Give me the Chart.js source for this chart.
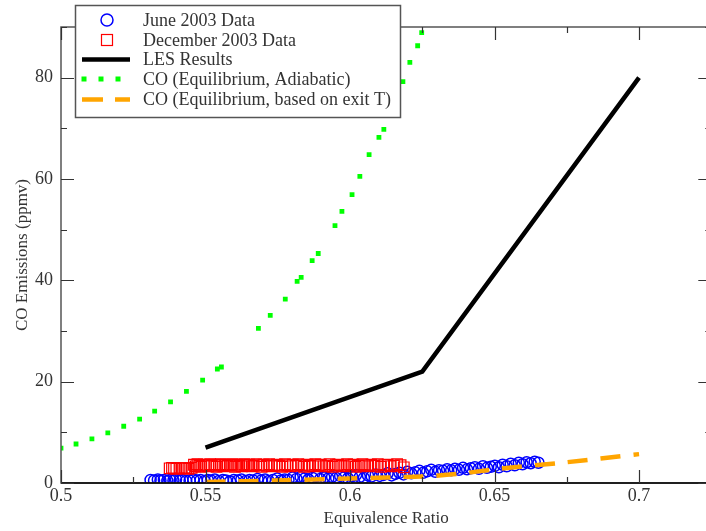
<!DOCTYPE html>
<html>
<head>
<meta charset="utf-8">
<script src="https://cdn.jsdelivr.net/npm/chart.js@4.4.0/dist/chart.umd.min.js"></script>
<style>
  html, body { margin: 0; padding: 0; background: #fff; overflow: hidden; }
  #wrap { width: 706px; height: 531px; overflow: hidden; position: relative; }
  #box { width: 720px; height: 531px; }
</style>
</head>
<body>
<div id="wrap"><div id="box"><canvas id="coChart"></canvas></div></div>
<script>
// ticks
const xTicks = [0.5, 0.55, 0.6, 0.65, 0.7];
const yTicks = [0, 20, 40, 60, 80];

// June 2003 measurements
const juneX = [0.5310, 0.5322, 0.5335, 0.5344, 0.5356, 0.5368, 0.5377, 0.5389, 0.5398, 0.5411,
               0.5420, 0.5433, 0.5445, 0.5458, 0.5470, 0.5483, 0.5497, 0.5508, 0.5519, 0.5532,
               0.5546, 0.5560, 0.5571, 0.5585, 0.5598, 0.5612, 0.5624, 0.5639, 0.5652, 0.5665,
               0.5680, 0.5693, 0.5706, 0.5719, 0.5733, 0.5748, 0.5761, 0.5774, 0.5787, 0.5802,
               0.5815, 0.5829, 0.5843, 0.5856, 0.5870, 0.5884, 0.5897, 0.5911, 0.5925, 0.5938,
               0.5952, 0.5966, 0.5979, 0.5993, 0.6007, 0.6021, 0.6034, 0.6048, 0.6062, 0.6075,
               0.6089, 0.6103, 0.6116, 0.6130, 0.6144, 0.6157, 0.6171, 0.6185, 0.6198, 0.6212,
               0.6226, 0.6240, 0.6253, 0.6267, 0.6281, 0.6295, 0.6308, 0.6322, 0.6336, 0.6350,
               0.6363, 0.6377, 0.6391, 0.6405, 0.6418, 0.6432, 0.6446, 0.6460, 0.6474, 0.6487,
               0.6501, 0.6515, 0.6528, 0.6542, 0.6556, 0.6570, 0.6584, 0.6597, 0.6611, 0.6625,
               0.6639, 0.6652];
const juneY = [0.6, 0.5, 0.7, 0.5, 0.6, 0.4, 0.6, 0.5, 0.7, 0.5,
               0.6, 0.4, 0.5, 0.7, 0.5, 0.6, 0.4, 0.6, 0.5, 0.7,
               0.4, 0.6, 0.5, 0.3, 0.6, 0.5, 0.7, 0.4, 0.6, 0.5,
               0.8, 0.5, 0.7, 0.4, 0.6, 0.9, 0.5, 0.7, 0.6, 1.1,
               0.8, 1.2, 0.9, 0.7, 1.0, 1.3, 0.8, 1.1, 0.9, 1.2,
               1.0, 1.4, 1.1, 0.9, 1.3, 1.6, 1.2, 1.0, 1.5, 1.3,
               1.7, 1.4, 1.6, 1.9, 1.5, 1.8, 2.0, 1.7, 2.2, 1.9,
               2.1, 2.4, 2.0, 2.3, 2.6, 2.2, 2.5, 2.4, 2.7, 2.5,
               2.8, 2.6, 3.0, 2.7, 2.9, 3.1, 2.8, 3.3, 3.0, 3.2,
               3.4, 3.1, 3.6, 3.3, 3.8, 3.5, 4.0, 3.7, 4.1, 3.9,
               4.2, 4.0];

// December 2003 measurements
const decX = [0.5376, 0.5384, 0.5391, 0.5399, 0.5410, 0.5418, 0.5427, 0.5433, 0.5441, 0.5452,
              0.5460, 0.5466, 0.5472, 0.5479, 0.5485, 0.5494, 0.5501, 0.5509, 0.5516, 0.5522,
              0.5531, 0.5538, 0.5547, 0.5553, 0.5561, 0.5570, 0.5577, 0.5586, 0.5593, 0.5602,
              0.5610, 0.5617, 0.5626, 0.5634, 0.5643, 0.5651, 0.5660, 0.5667, 0.5676, 0.5685,
              0.5694, 0.5701, 0.5712, 0.5720, 0.5729, 0.5738, 0.5747, 0.5755, 0.5766, 0.5775,
              0.5783, 0.5794, 0.5802, 0.5813, 0.5821, 0.5832, 0.5841, 0.5852, 0.5860, 0.5871,
              0.5880, 0.5891, 0.5899, 0.5910, 0.5921, 0.5929, 0.5940, 0.5951, 0.5959, 0.5970,
              0.5981, 0.5990, 0.6001, 0.6012, 0.6020, 0.6031, 0.6043, 0.6052, 0.6063, 0.6074,
              0.6085, 0.6096, 0.6107, 0.6118, 0.6130, 0.6141, 0.6152, 0.6163, 0.6175, 0.6186];
const decY = [2.9, 3.0, 2.9, 2.8, 3.0, 2.9, 3.0, 2.9, 2.8, 3.0, 3.6, 3.3,
              3.7, 3.4, 3.2, 3.6, 3.5, 3.3, 3.7, 3.4, 3.6, 3.2, 3.5, 3.7,
              3.3, 3.6, 3.4, 3.5, 3.7, 3.2, 3.6, 3.4, 3.3, 3.7, 3.5, 3.6,
              3.3, 3.4, 3.7, 3.5, 3.2, 3.6, 3.4, 3.7, 3.3, 3.5, 3.6, 3.4,
              3.2, 3.7, 3.5, 3.3, 3.6, 3.4, 3.7, 3.5, 3.2, 3.6, 3.4, 3.3,
              3.7, 3.5, 3.6, 3.3, 3.4, 3.7, 3.2, 3.5, 3.6, 3.4, 3.3, 3.7,
              3.5, 3.6, 3.2, 3.4, 3.7, 3.5, 3.3, 3.6, 3.4, 3.7, 3.2, 3.5,
              3.6, 3.3, 3.4, 3.7, 3.5, 3.1];

// LES results
const lesX = [0.55, 0.625, 0.7];
const lesY = [7.0, 22.0, 80.0];

// CO equilibrium, adiabatic
const adiaX = [0.5, 0.5052, 0.5107, 0.5162, 0.5217, 0.5272, 0.5324, 0.5379, 0.5434, 0.549,
               0.5541, 0.5555, 0.5683, 0.5724, 0.5776, 0.5817, 0.5831, 0.5869, 0.589, 0.5948,
               0.5972, 0.6007, 0.6034, 0.6066, 0.61, 0.6117, 0.6145, 0.6166, 0.6183, 0.6207,
               0.6234, 0.6248];
const adiaY = [6.9, 7.7, 8.7, 9.9, 11.2, 12.6, 14.2, 16.0, 18.1, 20.3,
               22.5, 22.9, 30.5, 33.1, 36.3, 39.8, 40.6, 43.9, 45.3, 50.8,
               53.6, 56.9, 60.5, 64.8, 68.2, 69.8, 73.1, 76.3, 79.2, 83.0,
               86.3, 88.9];

// CO equilibrium, based on exit T
const exitX = [0.55, 0.575, 0.6, 0.625, 0.6375, 0.65, 0.675, 0.7];
const exitY = [0.2, 0.5, 0.9, 1.3, 1.8, 2.7, 4.1, 5.7];

const labels = ["June 2003 Data", "December 2003 Data", "LES Results",
                "CO (Equilibrium, Adiabatic)", "CO (Equilibrium, based on exit T)"];

const FONT = "'Liberation Serif', 'Times New Roman', serif";
const BLUE = "#0000ff", RED = "#ff0000", GREEN = "#00ff00", ORANGE = "#ffa500";

function pts(xs, ys) {
    return xs.map((x, i) => ({ x: x, y: ys[i] }));
}

// frame, inward ticks and the in-plot legend
const framePlugin = {
    id: "frame",
    afterDatasetsDraw(chart) {
        const ctx = chart.ctx, a = chart.chartArea;
        const xs = chart.scales.x, ys = chart.scales.y;
        ctx.save();
        ctx.strokeStyle = "#555";
        ctx.lineWidth = 1.5;
        ctx.strokeRect(a.left, a.top, a.right - a.left, a.bottom - a.top);
        ctx.strokeStyle = "#000";
        ctx.beginPath();
        ctx.moveTo(a.left, a.bottom);
        ctx.lineTo(a.right, a.bottom);
        ctx.stroke();

        ctx.strokeStyle = "#333";
        ctx.lineWidth = 1.2;
        const xStep = xTicks[1] - xTicks[0];
        for (let v = xTicks[0]; v <= xs.max + 1e-9; v += xStep / 2) {
            const major = xTicks.some(t => Math.abs(t - v) < 1e-6);
            const len = major ? 13 : 6;
            const px = Math.round(xs.getPixelForValue(v)) + 0.5;
            ctx.beginPath();
            ctx.moveTo(px, a.bottom); ctx.lineTo(px, a.bottom - len);
            ctx.moveTo(px, a.top); ctx.lineTo(px, a.top + len);
            ctx.stroke();
        }
        const yStep = yTicks[1] - yTicks[0];
        for (let v = yTicks[0]; v <= ys.max + 1e-9; v += yStep / 2) {
            const major = yTicks.includes(v);
            const len = major ? 13 : 6;
            const py = Math.round(ys.getPixelForValue(v)) + 0.5;
            ctx.beginPath();
            ctx.moveTo(a.left, py); ctx.lineTo(a.left + len, py);
            ctx.moveTo(a.right, py); ctx.lineTo(a.right - len, py);
            ctx.stroke();
        }

        // legend box
        const bx = 75.5, by = 5.5, bw = 325, bh = 112;
        ctx.fillStyle = "#fff";
        ctx.fillRect(bx, by, bw, bh);
        ctx.strokeStyle = "#555";
        ctx.lineWidth = 1.5;
        ctx.strokeRect(bx, by, bw, bh);

        const rows = [20, 40, 59.5, 79, 99.5];
        const sx0 = 82, sx1 = 130, sxm = 107;
        // June circle
        ctx.strokeStyle = BLUE; ctx.lineWidth = 1.5;
        ctx.beginPath(); ctx.arc(sxm, rows[0], 6, 0, Math.PI * 2); ctx.stroke();
        // December square
        ctx.strokeStyle = RED; ctx.lineWidth = 1.2;
        ctx.strokeRect(sxm - 5.5, rows[1] - 5.5, 11, 11);
        // LES line
        ctx.strokeStyle = "#000"; ctx.lineWidth = 4.5;
        ctx.beginPath(); ctx.moveTo(sx0, rows[2]); ctx.lineTo(sx1, rows[2]); ctx.stroke();
        // adiabatic dots
        ctx.fillStyle = GREEN;
        [84, 101, 118].forEach(x => ctx.fillRect(x - 2.5, rows[3] - 2.5, 5, 5));
        // exit T dashes
        ctx.strokeStyle = ORANGE; ctx.lineWidth = 4.5;
        ctx.beginPath();
        ctx.moveTo(sx0, rows[4]); ctx.lineTo(103, rows[4]);
        ctx.moveTo(115, rows[4]); ctx.lineTo(sx1, rows[4]);
        ctx.stroke();

        ctx.fillStyle = "#333";
        ctx.font = "18px " + FONT;
        ctx.textBaseline = "middle";
        ctx.textAlign = "left";
        labels.forEach((t, i) => ctx.fillText(t, 143, rows[i] + 1));
        ctx.restore();
    }
};

let ctx = document.getElementById("coChart").getContext("2d");

let coChart = new Chart(ctx, {
    type: "scatter",
    data: {
        datasets: [{
            label: labels[0],
            data: pts(juneX, juneY),
            pointStyle: "circle",
            pointRadius: 5.5,
            borderColor: BLUE,
            backgroundColor: "rgba(0,0,0,0)",
            borderWidth: 1.5,
            order: 5
        }, {
            label: labels[1],
            data: pts(decX, decY),
            pointStyle: "rect",
            pointRadius: 7.5,
            borderColor: RED,
            backgroundColor: "rgba(0,0,0,0)",
            borderWidth: 1.2,
            order: 4
        }, {
            label: labels[2],
            data: pts(lesX, lesY),
            showLine: true,
            borderColor: "#000",
            borderWidth: 4.5,
            pointRadius: 0,
            order: 3
        }, {
            label: labels[3],
            data: pts(adiaX, adiaY),
            pointStyle: "rect",
            pointRadius: 3.4,
            borderWidth: 0,
            borderColor: GREEN,
            backgroundColor: GREEN,
            order: 2
        }, {
            label: labels[4],
            data: pts(exitX, exitY),
            showLine: true,
            borderColor: ORANGE,
            borderWidth: 4.5,
            borderDash: [20, 13],
            tension: 0.3,
            pointRadius: 0,
            order: 1
        }]
    },
    options: {
        responsive: true,
        maintainAspectRatio: false,
        animation: false,
        layout: { padding: { top: 27, right: 6.5, left: 0, bottom: 0 } },
        plugins: {
            legend: { display: false },
            tooltip: { enabled: false }
        },
        scales: {
            x: {
                type: "linear",
                min: 0.5,
                max: 0.725,
                grid: { display: false, drawTicks: false },
                border: { display: false },
                afterBuildTicks: s => { s.ticks = xTicks.map(v => ({ value: v })); },
                afterFit: s => { s.height = 48; },
                ticks: {
                    padding: 2,
                    color: "#333",
                    font: { family: FONT, size: 18 },
                    callback: v => String(+v.toFixed(3))
                },
                title: {
                    display: true,
                    text: "Equivalence Ratio",
                    color: "#333",
                    font: { family: FONT, size: 17 },
                    padding: { top: 0, bottom: 2 }
                }
            },
            y: {
                type: "linear",
                min: 0,
                max: 90,
                grid: { display: false, drawTicks: false },
                border: { display: false },
                afterBuildTicks: s => { s.ticks = yTicks.map(v => ({ value: v })); },
                afterFit: s => { s.width = 61; },
                ticks: {
                    padding: 8,
                    color: "#333",
                    font: { family: FONT, size: 18 }
                },
                title: {
                    display: true,
                    text: "CO Emissions (ppmv)",
                    color: "#333",
                    font: { family: FONT, size: 17 },
                    padding: { top: 12, bottom: 0 }
                }
            }
        }
    },
    plugins: [framePlugin]
});
</script>
</body>
</html>
